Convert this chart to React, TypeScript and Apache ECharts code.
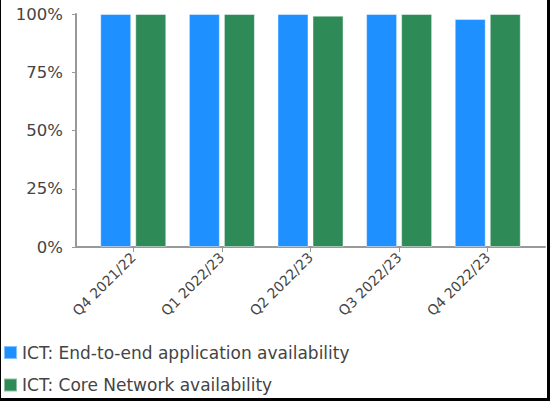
import React, { useEffect, useRef } from "react";
import * as echarts from "echarts";

const categories = ["Q4 2021/22", "Q1 2022/23", "Q2 2022/23", "Q3 2022/23", "Q4 2022/23"];
const endToEnd = [100, 100, 100, 100, 97.9];
const coreNetwork = [100, 100, 99.3, 100, 100];
const seriesNames = ["ICT: End-to-end application availability", "ICT: Core Network availability"];

const FONT = "DejaVu Sans";

export default function App() {
  const ref = useRef<HTMLDivElement>(null);
  useEffect(() => {
    if (!ref.current) return;
    const chart = echarts.init(ref.current, undefined, { renderer: "svg" });
    const idx = categories.map((_, i) => i);
    chart.setOption({
      animation: false,
      backgroundColor: "#ffffff",
      textStyle: { fontFamily: FONT },
      legend: {
        orient: "vertical",
        left: 2,
        top: 344,
        height: 60,
        itemWidth: 13,
        itemHeight: 13,
        itemGap: 15.5,
        icon: "rect",
        padding: 0,
        textStyle: { fontFamily: FONT, fontSize: 17, color: "#444" },
        data: seriesNames,
      },
      grid: { left: 75, right: 2, top: 14, bottom: 151, containLabel: false },
      xAxis: {
        type: "value",
        min: -0.646,
        max: categories.length - 1 + 0.646,
        splitLine: { show: false },
        axisLine: { show: true, onZero: false, lineStyle: { color: "#999", width: 2 } },
        axisTick: { show: true, customValues: idx, length: 5, lineStyle: { color: "#999" } },
        axisLabel: {
          customValues: idx,
          rotate: 45,
          margin: 8,
          fontFamily: FONT,
          fontSize: 14,
          color: "#444",
          formatter: (v: number) => categories[Math.round(v)] ?? "",
        },
      },
      yAxis: {
        type: "value",
        min: 0,
        max: 100,
        interval: 25,
        splitLine: { show: false },
        axisLine: { show: true, onZero: false, lineStyle: { color: "#999", width: 2 } },
        axisTick: { show: true, length: 4, lineStyle: { color: "#999" } },
        axisLabel: {
          formatter: "{value}%",
          fontFamily: FONT,
          fontSize: 16.5,
          color: "#444",
          margin: 13,
        },
      },
      series: [
        {
          name: seriesNames[0],
          type: "bar",
          data: endToEnd.map((v, i) => [i, v]),
          barWidth: 31,
          barGap: "13%",
          itemStyle: { color: "#1E90FF", borderColor: "rgba(255,255,255,0.45)", borderWidth: 1 },
        },
        {
          name: seriesNames[1],
          type: "bar",
          data: coreNetwork.map((v, i) => [i, v]),
          barWidth: 31,
          barGap: "13%",
          itemStyle: { color: "#2E8B57", borderColor: "rgba(255,255,255,0.45)", borderWidth: 1 },
        },
      ],
    });
    return () => chart.dispose();
  }, []);
  return (
    <div
      style={{
        position: "fixed",
        left: 0,
        top: 0,
        width: 550,
        height: 401,
        boxSizing: "border-box",
        borderLeft: "1px solid #000",
        borderRight: "3px solid #000",
        borderBottom: "3px solid #000",
        background: "#fff",
      }}
    >
      <div ref={ref} style={{ width: 546, height: 398 }} />
    </div>
  );
}
